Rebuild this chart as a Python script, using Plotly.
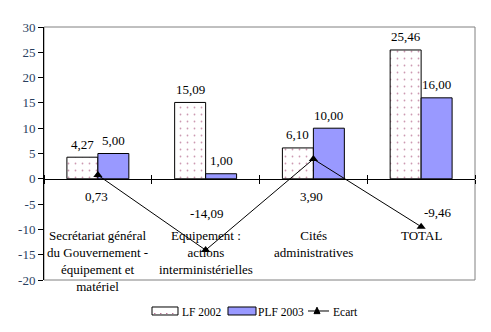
import plotly.graph_objects as go

categories = ["Secrétariat général<br>du Gouvernement -<br>équipement et<br>matériel",
              "Equipement :<br>actions<br>interministérielles",
              "Cités<br>administratives",
              "TOTAL"]
lf2002 = [4.27, 15.09, 6.10, 25.46]
plf2003 = [5.00, 1.00, 10.00, 16.00]
ecart = [0.73, -14.09, 3.90, -9.46]
y_ticks = [30, 25, 20, 15, 10, 5, 0, -5, -10, -15, -20]
series_names = ["LF 2002", "PLF 2003", "Ecart"]

def fr(v):
    return f"{v:.2f}".replace(".", ",")

FONT = "Liberation Serif"
xs = list(range(len(categories)))

def TF(size=13):
    return dict(family=FONT, size=size)

fig = go.Figure()
fig.add_trace(go.Bar(
    x=xs, y=lf2002, name=series_names[0], offsetgroup="a",
    marker=dict(color="white", line=dict(color="black", width=1),
                pattern=dict(shape=".", fgcolor="#993366", bgcolor="white",
                             size=7, solidity=0.05, fillmode="overlay")),
))
fig.add_trace(go.Bar(
    x=xs, y=plf2003, name=series_names[1], offsetgroup="b",
    marker=dict(color="#9999FF", line=dict(color="black", width=1)),
))
fig.add_trace(go.Scatter(
    x=xs, y=ecart, name=series_names[2], mode="lines+markers",
    line=dict(color="black", width=1),
    marker=dict(symbol="triangle-up", size=8, color="black"),
))
fig.add_trace(go.Scatter(x=[None], y=[None], xaxis="x2", showlegend=False, hoverinfo="skip"))

bar_off = 0.144
for i in xs:
    fig.add_annotation(x=i - bar_off, y=lf2002[i], text=fr(lf2002[i]), font=TF(),
                       showarrow=False, yshift=13, xref="x", yref="y")
    fig.add_annotation(x=i + bar_off, y=plf2003[i], text=fr(plf2003[i]), font=TF(),
                       showarrow=False, yshift=13, xref="x", yref="y")
ecart_shift = [(-1, -21), (1, 37), (-2, -37), (17, 14)]
for i in xs:
    dx, dy = ecart_shift[i]
    fig.add_annotation(x=i, y=ecart[i], text=fr(ecart[i]), showarrow=False, font=TF(),
                       xshift=dx, yshift=dy, xref="x", yref="y")
for i in xs:
    fig.add_annotation(x=i, y=0.215, xref="x", yref="paper", text=categories[i],
                       showarrow=False, yanchor="top", align="center", font=TF())

leg_y = -0.1265
for xp, name in zip([0.3155, 0.4920, 0.6660], series_names):
    fig.add_annotation(x=xp, y=leg_y, xref="paper", yref="paper", text=name, font=TF(11.5),
                       showarrow=False, xanchor="left", yanchor="middle")

shapes = [
    dict(type="rect", xref="paper", yref="paper", x0=0, x1=1, y0=0, y1=1,
         line=dict(color="#808080", width=1), layer="below"),
    dict(type="rect", xref="paper", yref="paper", x0=0.2506, x1=0.3109,
         y0=-0.1383, y1=-0.1067, fillcolor="white", line=dict(color="black", width=1)),
    dict(type="rect", xref="paper", yref="paper", x0=0.4269, x1=0.4919,
         y0=-0.1383, y1=-0.1067, fillcolor="#9999FF", line=dict(color="black", width=1)),
    dict(type="line", xref="paper", yref="paper", x0=0.6125, x1=0.6613,
         y0=-0.1225, y1=-0.1225, line=dict(color="black", width=1)),
    dict(type="path", xref="paper", yref="paper",
         path="M 0.6264 -0.1330 L 0.6404 -0.1330 L 0.6334 -0.1075 Z",
         fillcolor="black", line=dict(color="black", width=1)),
]
for k in range(4):
    shapes.append(dict(type="rect", xref="paper", yref="paper",
                       x0=0.2560 + k * 0.0139, x1=0.2583 + k * 0.0139,
                       y0=-0.1340, y1=-0.1300, fillcolor="#993366",
                       line=dict(width=0)))

fig.update_layout(
    width=491, height=332,
    margin=dict(l=44, r=16, t=27, b=52, autoexpand=False),
    plot_bgcolor="white", paper_bgcolor="white",
    bargap=0.425, bargroupgap=0,
    showlegend=False,
    shapes=shapes,
    xaxis=dict(range=[-0.5, 3.5], tickvals=[-0.5, 0.5, 1.5, 2.5, 3.5],
               showticklabels=False, ticks="outside", ticklen=4, tickcolor="black",
               showline=True, linecolor="black", linewidth=1, showgrid=False,
               zeroline=False, anchor="free", position=0.4),
    xaxis2=dict(range=[-0.5, 3.5], tickvals=[-0.5, 0.5, 1.5, 2.5, 3.5],
                showticklabels=False, ticks="outside", ticklen=4, tickcolor="black",
                showline=False, showgrid=False, zeroline=False,
                overlaying="x", side="top", anchor="free", position=0.4),
    yaxis=dict(range=[-20, 30], tickvals=y_ticks, ticktext=[str(v) for v in y_ticks],
               ticks="outside", ticklen=5, tickcolor="black",
               showline=True, linecolor="black", linewidth=1,
               showgrid=False, zeroline=False, tickfont=TF()),
)
fig.update_annotations(font_color="black")
fig.write_html("out.html")
